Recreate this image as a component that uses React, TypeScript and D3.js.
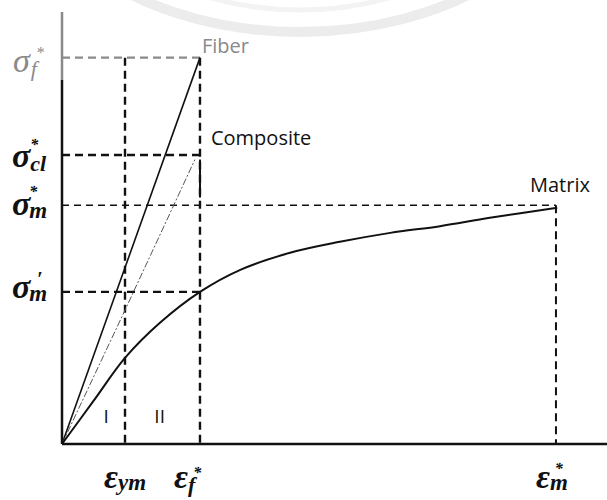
import React from "react";
import * as d3 from "d3";

// ---- data (arbitrary units) ----
const strainMarks = [1.0, 2.19, 7.84]; // ε_ym, ε_f*, ε_m*
const stressMarks = [2.54, 1.9, 1.57, 1.0]; // σ_f*, σ_cl*, σ_m*, σ'_m

const fiberStrain = [0, 2.19];
const fiberStress = [0, 2.54];

const compositeStrain = [0, 1.0, 2.11];
const compositeStress = [0, 0.88, 1.87];
const compositeDropStrain = [2.19, 2.19];
const compositeDropStress = [1.87, 1.62];

const matrixStrain = [0, 0.5, 1.0, 1.55, 2.19, 2.83, 3.62, 4.41, 5.21, 6.0, 6.79, 7.86];
const matrixStress = [0, 0.283, 0.566, 0.795, 1.0, 1.145, 1.257, 1.329, 1.388, 1.432, 1.487, 1.553];

const regionLabels = ["I", "II"];
const regionStrain = [0.7, 1.55];

const W = 607;
const H = 500;

export default function App() {
  const x = d3.scaleLinear().domain([0, 8.65]).range([62, 607]);
  const y = d3.scaleLinear().domain([0, 2.84]).range([444, 12]);
  const line = d3
    .line<[number, number]>()
    .x((d) => x(d[0]))
    .y((d) => y(d[1]));
  const curve = d3
    .line<[number, number]>()
    .x((d) => x(d[0]))
    .y((d) => y(d[1]))
    .curve(d3.curveCatmullRom.alpha(0.5));

  const zip = (a: number[], b: number[]) => a.map((v, i) => [v, b[i]] as [number, number]);

  const [sf, scl, smStar, smPrime] = stressMarks;
  const [eym, ef, em] = strainMarks;

  const serif = "'Liberation Serif', 'Times New Roman', serif";
  const sans = "'Open Sans', 'Noto Sans', sans-serif";
  const dashThick = "8 5";
  const gray = "#8a8a8a";

  return (
    <svg width={W} height={H} style={{ position: "absolute", left: 0, top: 0, background: "#fff" }}>
      {/* faint watermark arcs */}
      <ellipse cx={300} cy={-160} rx={285} ry={192} fill="none" stroke="#ececec" strokeWidth={10} />
      <ellipse cx={300} cy={-160} rx={240} ry={170} fill="none" stroke="#f3f3f3" strokeWidth={5} />

      {/* dashed reference lines */}
      <g fill="none" strokeDasharray={dashThick}>
        <line x1={x(0)} x2={x(ef)} y1={y(sf)} y2={y(sf)} stroke={gray} strokeWidth={2.4} />
        <line x1={x(eym)} x2={x(eym)} y1={y(sf)} y2={y(0)} stroke="#111" strokeWidth={2.4} />
        <line x1={x(ef)} x2={x(ef)} y1={y(sf)} y2={y(0)} stroke="#111" strokeWidth={2.4} />
        <line x1={x(0)} x2={x(ef)} y1={y(scl)} y2={y(scl)} stroke="#111" strokeWidth={2.4} />
        <line x1={x(0)} x2={x(em)} y1={y(smStar)} y2={y(smStar)} stroke="#111" strokeWidth={1.5} strokeDasharray="7 5" />
        <line x1={x(0)} x2={x(ef)} y1={y(smPrime)} y2={y(smPrime)} stroke="#111" strokeWidth={2.4} />
        <line x1={x(em)} x2={x(em)} y1={y(smStar)} y2={y(0)} stroke="#111" strokeWidth={2} />
      </g>

      {/* curves */}
      <path d={line(zip(fiberStrain, fiberStress)) || ""} fill="none" stroke="#111" strokeWidth={1.6} />
      <path
        d={line(zip(compositeStrain, compositeStress)) || ""}
        fill="none"
        stroke="#555"
        strokeWidth={1}
        strokeDasharray="7 2 2 2"
      />
      <path d={line(zip(compositeDropStrain, compositeDropStress)) || ""} fill="none" stroke="#111" strokeWidth={2} />
      <path d={curve(zip(matrixStrain, matrixStress)) || ""} fill="none" stroke="#111" strokeWidth={2} />

      {/* axes */}
      <line x1={x(0)} x2={x(8.65)} y1={y(0)} y2={y(0)} stroke="#111" strokeWidth={2.5} />
      <line x1={x(0)} x2={x(0)} y1={y(0)} y2={80} stroke="#111" strokeWidth={2.5} />
      <line x1={x(0)} x2={x(0)} y1={80} y2={y(2.84)} stroke={gray} strokeWidth={2.5} />

      {/* curve labels */}
      <text x={x(ef) + 2} y={53} fontFamily={sans} fontSize={20} fill={gray}>Fiber</text>
      <text x={x(ef) + 11} y={145} fontFamily={sans} fontSize={20} fill="#111">Composite</text>
      <text x={530} y={192} fontFamily={sans} fontSize={20} fill="#111">Matrix</text>

      {regionLabels.map((t, i) => (
        <text key={t} x={x(regionStrain[i])} y={423} textAnchor="middle" fontFamily={sans} fontSize={19} fill="#111">
          {t}
        </text>
      ))}

      {/* y labels */}
      <g fontFamily={serif} fontStyle="italic" fontWeight="bold">
        <text x={13} y={y(sf) + 14} fill={gray} fontWeight="normal">
          <tspan fontSize={34}>σ</tspan>
          <tspan fontSize={22} dx={1} dy={4}>f</tspan>
          <tspan fontSize={16} dx={-1} dy={-18}>*</tspan>
        </text>
        <text x={12} y={y(scl) + 12} fill="#111">
          <tspan fontSize={34}>σ</tspan>
          <tspan fontSize={22} dy={4}>cl</tspan>
          <tspan fontSize={16} dx={-16} dy={-21}>*</tspan>
        </text>
        <text x={12} y={y(smStar) + 10} fill="#111">
          <tspan fontSize={34}>σ</tspan>
          <tspan fontSize={23} dx={-1} dy={3}>m</tspan>
          <tspan fontSize={16} dx={-18} dy={-21}>*</tspan>
        </text>
        <text x={12} y={y(smPrime) + 6} fill="#111">
          <tspan fontSize={34}>σ</tspan>
          <tspan fontSize={23} dx={-1} dy={3}>m</tspan>
          <tspan fontSize={20} fontStyle="normal" dx={-10} dy={-15}>′</tspan>
        </text>
      </g>

      {/* x labels */}
      <g fontFamily={serif} fontStyle="italic" fontWeight="bold" fill="#111">
        <text x={x(eym) - 21} y={488}>
          <tspan fontSize={34}>ε</tspan>
          <tspan fontSize={23} dy={2}>ym</tspan>
        </text>
        <text x={x(ef) - 26} y={488}>
          <tspan fontSize={34}>ε</tspan>
          <tspan fontSize={22} dy={4}>f</tspan>
          <tspan fontSize={16} dx={-2} dy={-14}>*</tspan>
        </text>
        <text x={x(em) - 20} y={488}>
          <tspan fontSize={34}>ε</tspan>
          <tspan fontSize={23} dy={2}>m</tspan>
          <tspan fontSize={16} dx={-13} dy={-16}>*</tspan>
        </text>
      </g>
    </svg>
  );
}
